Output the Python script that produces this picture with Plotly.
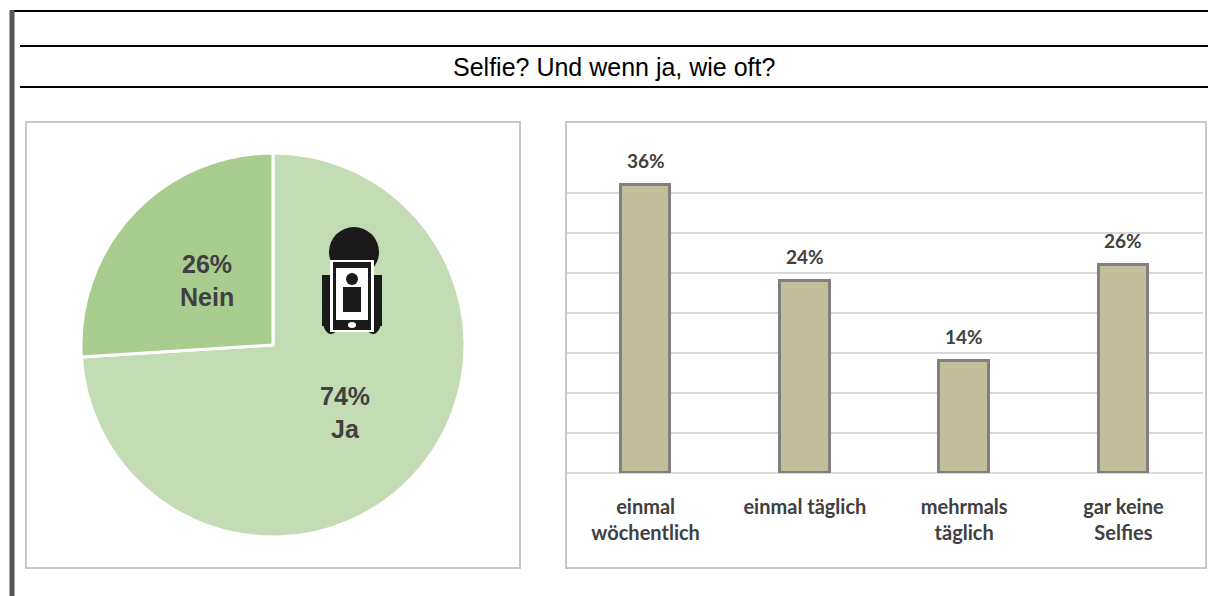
import plotly.graph_objects as go

pie_labels = ["Ja", "Nein"]
pie_values = [74, 26]
bar_cats = ["einmal<br>wöchentlich", "einmal täglich", "mehrmals<br>täglich", "gar keine<br>Selfies"]
bar_vals = [36, 24, 14, 26]

W, H = 1208, 596
def px(x): return x / W
def py(y): return 1 - y / H

fig = go.Figure()
fig.add_trace(go.Pie(labels=pie_labels, values=pie_values, sort=False, direction="clockwise",
                     rotation=0, marker=dict(colors=["#c3dcb3", "#a9cd8f"], line=dict(color="white", width=3)),
                     textinfo="none", hoverinfo="label+percent", showlegend=False,
                     domain=dict(x=[px(81), px(465)], y=[py(537), py(153)])))
fig.add_trace(go.Bar(x=bar_cats, y=bar_vals, width=0.31, marker=dict(color="#c2bd9a", line=dict(color="#808080", width=3)),
                     showlegend=False))

fig.update_layout(width=W, height=H, margin=dict(l=0, r=0, t=0, b=0), plot_bgcolor="white", paper_bgcolor="white",
    xaxis=dict(domain=[px(566), px(1203)], showline=False, ticks="", tickfont=dict(family="Lato", size=20, color="#404040"),
               ticklabelstandoff=20, tickvals=bar_cats, ticktext=[f"<b>{c}</b>" for c in bar_cats]),
    yaxis=dict(domain=[py(473), py(153)], range=[0, 40], dtick=5, showticklabels=False, gridcolor="#d9d9d9", gridwidth=2,
               zeroline=True, zerolinecolor="#d9d9d9", zerolinewidth=2),
    bargap=0)

shapes = []
def line(x0, y0, x1, y1, color="black", w=2):
    shapes.append(dict(type="line", xref="paper", yref="paper", x0=px(x0), y0=py(y0), x1=px(x1), y1=py(y1), line=dict(color=color, width=w)))
line(10, 11, 1208, 11)
line(12, 10, 12, 596, color="#555", w=5)
line(20, 46, 1208, 46)
line(20, 87, 1208, 87)
for (x0, y0, x1, y1) in [(26, 122, 520, 568), (566, 122, 1206, 568)]:
    shapes.append(dict(type="rect", xref="paper", yref="paper", x0=px(x0), y0=py(y0), x1=px(x1), y1=py(y1), line=dict(color="#c8c8c8", width=2)))
def circ(x0, y0, x1, y1, c):
    shapes.append(dict(type="circle", xref="paper", yref="paper", x0=px(x0), y0=py(y0), x1=px(x1), y1=py(y1), fillcolor=c, line=dict(width=0)))
def rect(x0, y0, x1, y1, c):
    shapes.append(dict(type="rect", xref="paper", yref="paper", x0=px(x0), y0=py(y0), x1=px(x1), y1=py(y1), fillcolor=c, line=dict(width=0)))
K = "#1a1a1a"
circ(329, 227, 379, 277, K)
rect(322, 275, 382, 326, K)
circ(322, 300, 340, 334, K)
circ(364, 300, 382, 334, K)
rect(330, 260, 374, 332, "white")
rect(333, 262, 371, 330, K)
rect(336, 268, 368, 320, "white")
circ(346, 273, 358, 285, K)
rect(343, 287, 361, 312, K)
circ(348, 322, 356, 328, "white")
fig.update_layout(shapes=shapes)

anns = [
    dict(text="Selfie? Und wenn ja, wie oft?", x=px(614), y=py(67), font=dict(family="Liberation Sans", size=25, color="black")),
    dict(text="<b>26%<br>Nein</b>", x=px(207), y=py(280), font=dict(family="Liberation Sans", size=25, color="#404040")),
    dict(text="<b>74%<br>Ja</b>", x=px(345), y=py(412), font=dict(family="Liberation Sans", size=25, color="#404040")),
]
for a in anns:
    a.update(xref="paper", yref="paper", showarrow=False, xanchor="center", yanchor="middle")
for c, v in zip(bar_cats, bar_vals):
    anns.append(dict(text=f"<b>{v}%</b>", x=c, y=v, xref="x", yref="y", showarrow=False, yanchor="middle", yshift=25,
                     font=dict(family="Lato", size=19, color="#404040")))
fig.update_layout(annotations=anns)
fig.write_html("out.html", config={"displayModeBar": False}, post_script="document.body.style.margin='0';")
